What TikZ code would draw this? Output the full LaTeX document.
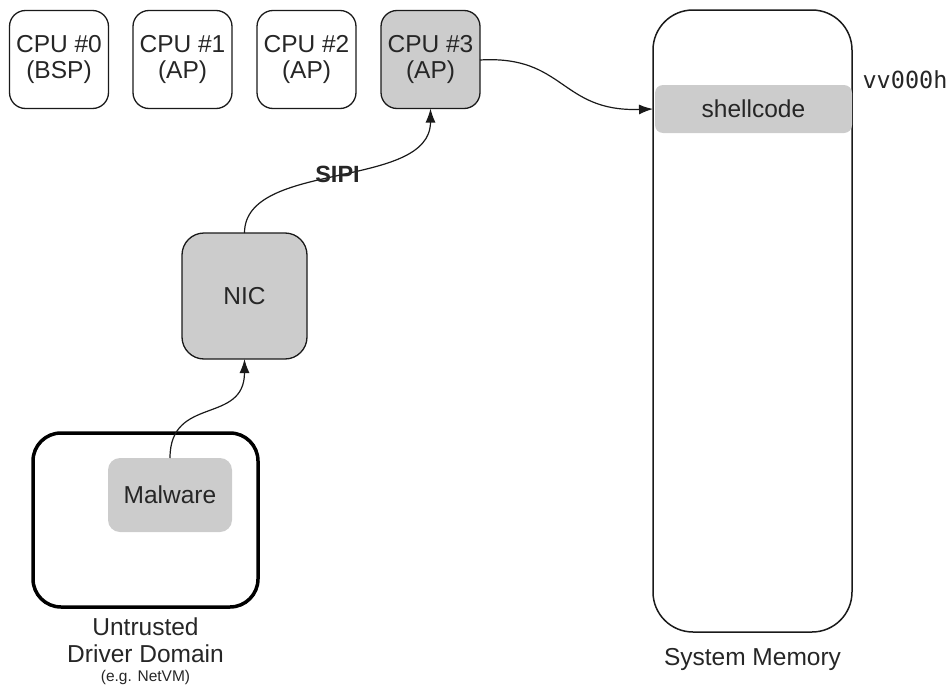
\documentclass[tikz,border=0pt]{standalone}
\usepackage{fontspec}
\setmainfont{Liberation Sans}
\newfontfamily\monofnt{DejaVu Sans Mono}
\usetikzlibrary{arrows.meta}
\definecolor{txt}{HTML}{262626}
\definecolor{boxgrey}{HTML}{CCCCCC}
\definecolor{edge}{HTML}{1A1A1A}
\begin{document}
\begin{tikzpicture}[x=1pt,y=-1pt,
  every node/.style={text=txt,font=\fontsize{24.5}{26}\selectfont,inner sep=0pt,align=center},
  cpubox/.style={draw=edge,line width=1.3pt,rounded corners=16pt,minimum width=99pt,minimum height=98pt},
  greybox/.style={fill=boxgrey},
  conn/.style={draw=edge,line width=1.2pt,-{Latex[length=14pt,width=10pt]}}]
\useasboundingbox (0,0) rectangle (951,688);
% CPUs
\node[cpubox] (cpu0) at (59,59.5) {CPU \#0\\(BSP)};
\node[cpubox] (cpu1) at (182.5,59.5) {CPU \#1\\(AP)};
\node[cpubox] (cpu2) at (306.5,59.5) {CPU \#2\\(AP)};
\node[cpubox,greybox] (cpu3) at (430.5,59.5) {CPU \#3\\(AP)};
% memory
\node[draw=edge,line width=1.5pt,rounded corners=40pt,minimum width=199pt,minimum height=622pt] (mem) at (752.5,321) {};
\node[greybox,rounded corners=8pt,minimum width=197pt,minimum height=48pt] (shell) at (753.5,109) {shellcode};
\node[font=\monofnt\fontsize{23.5}{26}\selectfont,anchor=center] (addr) at (905,80) {vv000h};
\node (memlbl) at (752.5,659) {System Memory};
% NIC
\node[cpubox,greybox,rounded corners=22pt,minimum width=125pt,minimum height=126pt] (nic) at (244.5,296) {NIC};
% domain
\node[draw=black,line width=3.5pt,rounded corners=28pt,minimum width=225pt,minimum height=174pt] (dom) at (145.5,520) {};
\node[greybox,rounded corners=12pt,minimum width=124pt,minimum height=74pt] (mal) at (170,495) {Malware};
\node (dl1) at (145.5,627) {Untrusted};
\node (dl2) at (145.5,654) {Driver Domain};
\node[font=\fontsize{15.5}{17}\selectfont] (dl3) at (145.5,677) {(e.g. NetVM)};
% connectors
\coordinate (malt) at (170,458);
\coordinate (nicb) at (244.5,359);
\coordinate (nict) at (244.5,233);
\coordinate (cpub) at (430.5,108.5);
\coordinate (cpur) at (480,60);
\coordinate (shl) at (653,109);
\draw[conn] (malt) .. controls (170,395) and (244.5,425) .. (nicb);
\draw[conn] (nict) .. controls (244.5,160) and (430.5,190) .. (cpub)
  node[pos=0.5,font=\bfseries\fontsize{23.5}{26}\selectfont] (sipi) {SIPI};
\draw[conn] (cpur) .. controls (565,55) and (560,112) .. (shl);
\end{tikzpicture}
\end{document}
